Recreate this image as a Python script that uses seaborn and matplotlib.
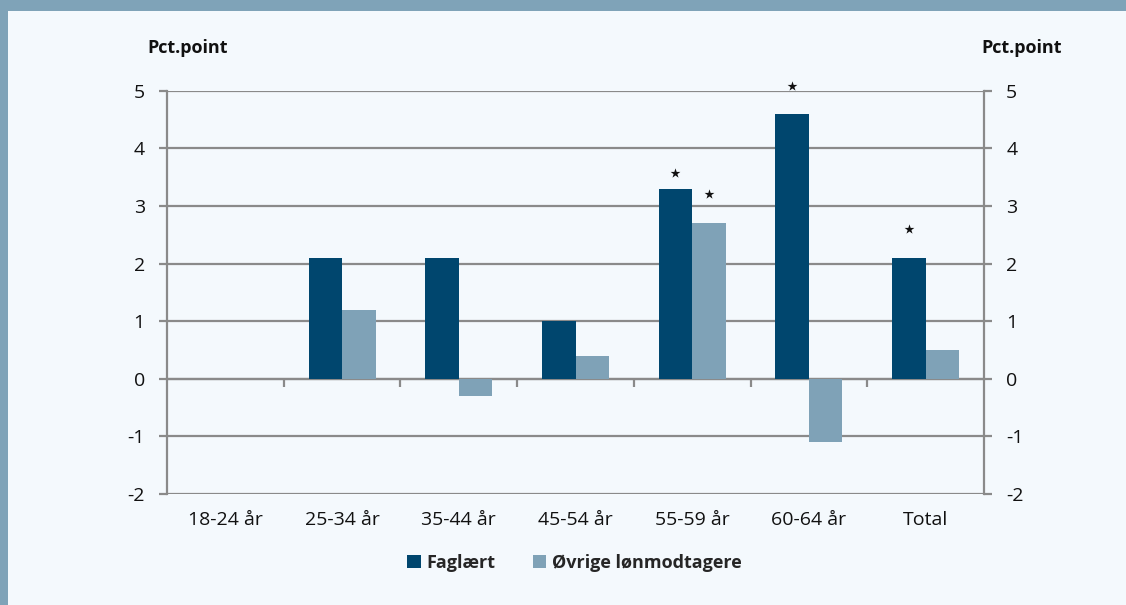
import matplotlib
matplotlib.use("Agg")
import matplotlib.pyplot as plt
import seaborn as sns
import pandas as pd
from matplotlib.patches import Rectangle, Patch

categories = ["18-24 år", "25-34 år", "35-44 år", "45-54 år", "55-59 år", "60-64 år", "Total"]
faglaert = [0.0, 2.1, 2.1, 1.0, 3.3, 4.6, 2.1]
oevrige = [0.0, 1.2, -0.3, 0.4, 2.7, -1.1, 0.5]
series_names = ["Faglært", "Øvrige lønmodtagere"]
# significance stars: (category index, series index, y position of star)
star_cat = [4, 4, 5, 6]
star_series = [0, 1, 0, 0]
star_y = [3.58, 3.21, 5.09, 2.60]
yticks = [-2, -1, 0, 1, 2, 3, 4, 5]
unit_label = "Pct.point"

DARK = "#00466e"
LIGHT = "#7fa2b7"
BG = "#f4f9fd"
BAND = "#7fa3b8"
GRID = "#8a8a8a"

sns.set_theme(style="white")
plt.rcParams["font.family"] = ["Open Sans", "DejaVu Sans"]

df = pd.DataFrame({
    "cat": categories * 2,
    "serie": [series_names[0]] * len(categories) + [series_names[1]] * len(categories),
    "val": faglaert + oevrige,
})

fig = plt.figure(figsize=(11.26, 6.05), dpi=100, facecolor=BG)
ax = fig.add_axes([167 / 1126, 1 - 494 / 605, (984 - 167) / 1126, (494 - 90.7) / 605])
ax.set_facecolor(BG)

# frame decorations
fig.patches.append(Rectangle((0, 1 - 11 / 605), 1, 11 / 605, transform=fig.transFigure,
                             facecolor=BAND, edgecolor="none", zorder=0))
fig.patches.append(Rectangle((0, 0), 8 / 1126, 1, transform=fig.transFigure,
                             facecolor=BAND, edgecolor="none", zorder=0))

sns.barplot(data=df, x="cat", y="val", hue="serie", order=categories,
            hue_order=series_names, palette=[DARK, LIGHT], width=0.575,
            gap=0, saturation=1, ax=ax, legend=False, zorder=3, edgecolor="none")

ax.set_xlim(-0.5, len(categories) - 0.5)
ax.set_ylim(-2, 5)
ax.set_yticks(yticks)
ax.set_yticklabels([str(v) for v in yticks])
for v in yticks:
    ax.axhline(v, color=GRID, lw=1.6, zorder=1)

ax.spines["top"].set_visible(False)
ax.spines["bottom"].set_visible(False)
for s in ["left", "right"]:
    ax.spines[s].set_visible(True)
    ax.spines[s].set_color(GRID)
    ax.spines[s].set_linewidth(1.6)

ax.tick_params(axis="y", which="both", left=True, right=True, labelleft=True, labelright=True,
               length=6, width=1.6, color=GRID, direction="out", labelsize=14, pad=10,
               labelcolor="#111111")
ax.tick_params(axis="x", length=0, labelsize=14, pad=12, labelcolor="#111111")
ax.set_xlabel("")
ax.set_ylabel("")

# zero axis with ticks at category boundaries
sec = ax.secondary_xaxis(2 / 7)
sec.set_xticks([i + 0.5 for i in range(len(categories) - 1)])
sec.set_xticklabels([])
sec.tick_params(length=6, width=1.6, color=GRID, direction="out")
sec.spines["bottom"].set_color(GRID)
sec.spines["bottom"].set_linewidth(1.6)
sec.spines["top"].set_visible(False)

# stars
offs = [-0.575 / 4, 0.575 / 4]
ax.scatter([c + offs[s] for c, s in zip(star_cat, star_series)], star_y,
           marker="*", s=55, color="#111111", zorder=5, clip_on=False, linewidths=0)

fig.text(188 / 1126, 1 - 48 / 605, unit_label, ha="center", va="center",
         fontsize=13, fontweight="bold", color="#111111")
fig.text(1022 / 1126, 1 - 48 / 605, unit_label, ha="center", va="center",
         fontsize=13, fontweight="bold", color="#111111")

handles = [Patch(facecolor=DARK, edgecolor="none"), Patch(facecolor=LIGHT, edgecolor="none")]
leg = fig.legend(handles, series_names, loc="center", bbox_to_anchor=(0.51, 1 - 563 / 605),
                 ncol=2, frameon=False, handlelength=0.75, handleheight=0.75,
                 handletextpad=0.3, columnspacing=2.1,
                 prop={"weight": "bold", "size": 13})

fig.savefig("out.png", dpi=100, facecolor=BG)
